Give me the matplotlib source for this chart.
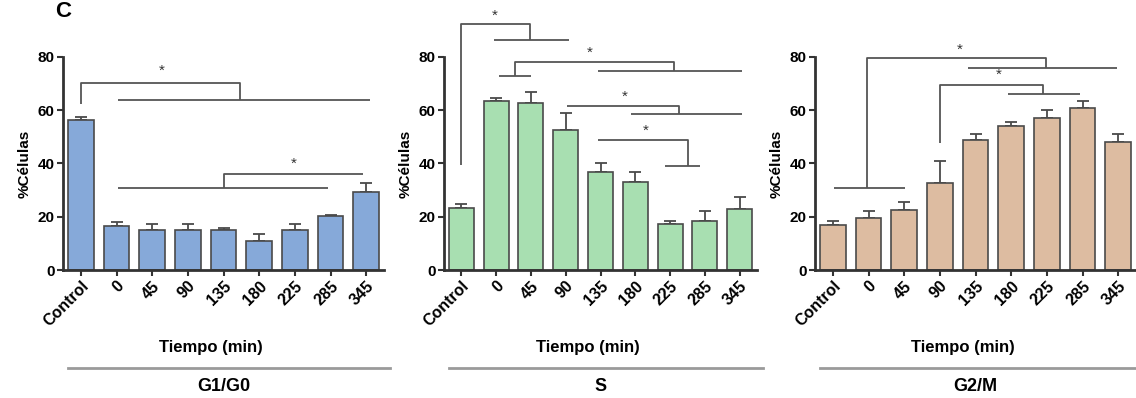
import matplotlib
matplotlib.use("Agg")
from matplotlib import pyplot as plt
from matplotlib.lines import Line2D

plt.rcParams['font.family'] = ['Liberation Sans', 'DejaVu Sans']

categories = ['Control', '0', '45', '90', '135', '180', '225', '285', '345']

# G1/G0
g1_mean = [56.4, 16.6, 15.2, 15.0, 15.0, 10.9, 15.1, 20.3, 29.2]
g1_err = [1.2, 1.6, 2.2, 2.3, 0.8, 2.6, 2.2, 0.5, 3.4]
# S
s_mean = [23.2, 63.3, 62.9, 52.4, 36.8, 33.2, 17.2, 18.5, 22.9]
s_err = [1.6, 1.2, 4.0, 6.7, 3.4, 3.5, 1.3, 3.7, 4.4]
# G2/M
g2_mean = [16.9, 19.7, 22.6, 32.6, 48.9, 54.2, 57.1, 60.8, 47.9]
g2_err = [1.6, 2.6, 2.8, 8.5, 2.1, 1.3, 3.1, 2.7, 3.1]

# significance brackets: polylines (x index, %) and star positions
g1_brackets = [
    [(0, 62.5), (0, 70.4), (4.47, 70.4), (4.47, 64)],
    [(1.04, 64), (8.1, 64)],
    [(1.04, 30.9), (6.94, 30.9)],
    [(4.0, 30.9), (4.0, 36), (7.9, 36)],
]
g1_stars = [(2.27, 74.8), (5.96, 39.8)]

s_brackets = [
    [(0, 39.5), (0, 92.5), (1.96, 92.5), (1.96, 86.2)],
    [(0.95, 86.2), (3.08, 86.2)],
    [(1.07, 72.9), (2.0, 72.9)],
    [(1.53, 72.9), (1.53, 78.3), (6.1, 78.3), (6.1, 74.8)],
    [(3.94, 74.8), (8.08, 74.8)],
    [(3.04, 61.6), (6.27, 61.6), (6.27, 58.5)],
    [(4.87, 58.5), (8.08, 58.5)],
    [(3.94, 48.9), (6.52, 48.9), (6.52, 39.2)],
    [(5.86, 39.2), (6.86, 39.2)],
]
s_stars = [(0.96, 95.5), (3.68, 81.5), (4.7, 65.2), (5.3, 52.3)]

g2_brackets = [
    [(0.02, 30.7), (2.02, 30.7)],
    [(0.95, 30.7), (0.95, 79.5), (5.97, 79.5), (5.97, 75.8)],
    [(3.8, 75.8), (7.97, 75.8)],
    [(3.0, 47.7), (3.0, 69.5), (5.9, 69.5), (5.9, 66.0)],
    [(4.9, 66.0), (6.93, 66.0)],
]
g2_stars = [(3.56, 82.7), (4.64, 73.3)]

panels = [
    ('G1/G0', g1_mean, g1_err, '#86a9d9', g1_brackets, g1_stars, 63, 384),
    ('S', s_mean, s_err, '#a8dfb1', s_brackets, s_stars, 444, 757),
    ('G2/M', g2_mean, g2_err, '#ddbca1', g2_brackets, g2_stars, 815, 1136),
]

W, H = 1136, 398
fig = plt.figure(figsize=(W / 100, H / 100), dpi=100)
y0_px, y80_px = 270, 57
edge = '#4a4a4a'
line_c = '#555555'

for name, mean, err, color, brackets, stars, x0, x1 in panels:
    ax = fig.add_axes([x0 / W, (H - y0_px) / H, (x1 - x0) / W, (y0_px - y80_px) / H])
    x = list(range(len(categories)))
    ax.bar(x, mean, width=0.72, color=color, edgecolor=edge, linewidth=1.2, zorder=2)
    ax.errorbar(x, mean, yerr=[[0] * len(err), err], fmt='none', ecolor=edge,
                elinewidth=1.3, capsize=4, capthick=1.3, zorder=1)
    ax.set_xlim(-0.5, 8.5)
    ax.set_ylim(0, 80)
    ax.set_yticks([0, 20, 40, 60, 80])
    ax.set_xticks(x)
    ax.set_xticklabels(categories, rotation=45, ha='right', rotation_mode='anchor',
                       fontsize=11.5, fontweight='bold')
    for lab in ax.get_yticklabels():
        lab.set_fontsize(11)
        lab.set_fontweight('bold')
    ax.spines['top'].set_visible(False)
    ax.spines['right'].set_visible(False)
    for sp in ('left', 'bottom'):
        ax.spines[sp].set_linewidth(2)
        ax.spines[sp].set_color('#333333')
    ax.tick_params(axis='both', direction='out', length=4, width=1.5, color='#333333', pad=2)
    ax.set_ylabel('%Células', fontsize=11, fontweight='bold', labelpad=4)
    ax.patch.set_alpha(0)

    for seg in brackets:
        xs = [p[0] for p in seg]
        ys = [p[1] for p in seg]
        ax.plot(xs, ys, color=line_c, lw=1.3, clip_on=False, solid_capstyle='butt')
    for sx, sy in stars:
        ax.text(sx, sy, '*', ha='center', va='center', fontsize=11, color='#333333',
                clip_on=False)

    width_px = x1 - x0
    ax.text(0.5 - 13 / width_px, -0.366, 'Tiempo (min)', transform=ax.transAxes,
            ha='center', va='center', fontsize=12, fontweight='bold')
    ax.add_line(Line2D([0.016, 1.02], [-0.46, -0.46], transform=ax.transAxes,
                       color='#9a9a9a', lw=2, clip_on=False))
    ax.text(0.5, -0.545, name, transform=ax.transAxes, ha='center', va='center',
            fontsize=13, fontweight='bold')

fig.text(63 / W, 1 - 1 / H, 'C', fontsize=16, fontweight='bold', ha='center', va='top')

fig.savefig('out.png', dpi=100)
